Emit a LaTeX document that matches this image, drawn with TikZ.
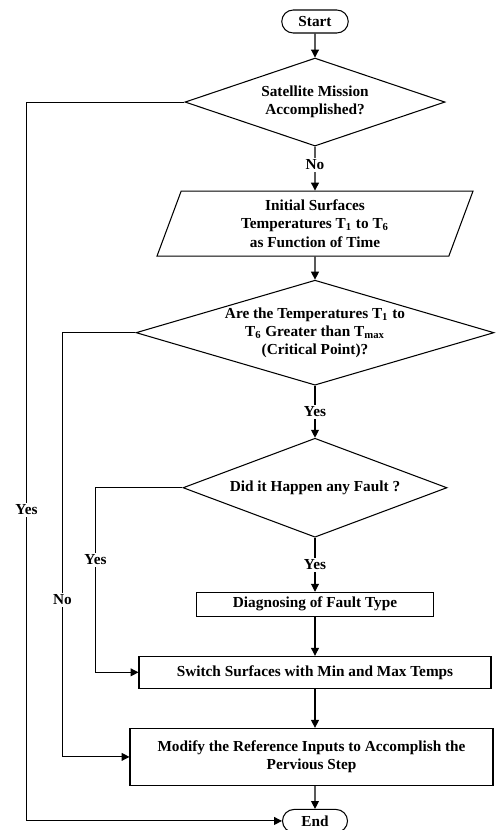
\documentclass[tikz,border=0pt]{standalone}
\usepackage{fontspec}
\setmainfont{Liberation Serif}
\usetikzlibrary{arrows.meta, positioning, shapes.geometric, shapes.misc}

\begin{document}
\begin{tikzpicture}[
      font=\fontsize{8.7}{10.3}\selectfont\bfseries,
      term/.style={rounded rectangle, draw, minimum width=1.33cm, minimum height=0.46cm, inner sep=0pt},
      decision/.style={diamond, draw, align=center, inner sep=0pt},
      io/.style={trapezium, trapezium left angle=64.5, trapezium right angle=115.5, trapezium stretches body, draw, align=center, minimum width=6.32cm, minimum height=1.3cm, inner sep=1pt},
      box/.style={rectangle, draw, align=center, inner sep=0pt},
      arrow/.style={-{Triangle[length=4.5pt, width=4.5pt]}},
      lbl/.style={fill=white, inner sep=1pt},
      line width=0.6pt
    ]
    \useasboundingbox (0,0) rectangle (9.9,-16.6);

    % Nodes
    \node[term] (start) at (6.3,-0.43) {Start};
    \node[decision, aspect=2.95, minimum width=5.2cm, minimum height=1.76cm, below=0.48cm of start] (mission) {Satellite Mission\\Accomplished?};
    \node[io, below=0.88cm of mission] (temps) {Initial Surfaces\\Temperatures T\textsubscript{1} to T\textsubscript{6}\\as Function of Time};
    \node[decision, aspect=3.41, minimum width=7.16cm, minimum height=2.1cm, below=0.46cm of temps] (critical) {Are the Temperatures T\textsubscript{1} to\\T\textsubscript{6} Greater than T\textsubscript{max}\\(Critical Point)?};
    \node[decision, aspect=2.67, minimum width=5.28cm, minimum height=1.98cm, below=1.04cm of critical] (fault) {Did it Happen any Fault ?};
    \node[box, minimum width=4.74cm, minimum height=0.48cm, below=1.08cm of fault] (diagnose) {Diagnosing of Fault Type};
    \node[box, minimum width=7.04cm, minimum height=0.64cm, below=0.78cm of diagnose] (switch) {Switch Surfaces with Min and Max Temps};
    \node[box, minimum width=7.26cm, minimum height=1.14cm, below=0.78cm of switch, xshift=-0.07cm] (modify) {Modify the Reference Inputs to Accomplish the\\Pervious Step};
    \node[term, minimum width=1.3cm, minimum height=0.46cm, below=0.46cm of modify, xshift=0.07cm] (done) {End};

    % Arrows
    \draw[arrow] (start) -- (mission);
    \draw[arrow] (mission) -- node[lbl, pos=0.42]{No} (temps);
    \draw[arrow] (temps) -- (critical);
    \draw[arrow] (critical) -- node[lbl]{Yes} (fault);
    \draw[arrow] (fault) -- node[lbl]{Yes} (diagnose);
    \draw[arrow] (diagnose) -- (switch);
    \draw[arrow] (switch) -- (modify.north -| switch.south);
    \draw[arrow] (modify.south -| done.north) -- (done);

    \draw[arrow] (mission.west) -- ++(-3.16,0) coordinate (c1) -- node[lbl, pos=0.567]{Yes} (c1 |- done.west) -- (done.west);
    \draw[arrow] (critical.west) -- ++(-1.46,0) coordinate (c2) -- node[lbl, pos=0.63]{No} (c2 |- modify.west) -- (modify.west);
    \draw[arrow] (fault.west) -- ++(-1.74,0) coordinate (c3) -- node[lbl, pos=0.39]{Yes} (c3 |- switch.west) -- (switch.west);

    \end{tikzpicture}
\end{document}
